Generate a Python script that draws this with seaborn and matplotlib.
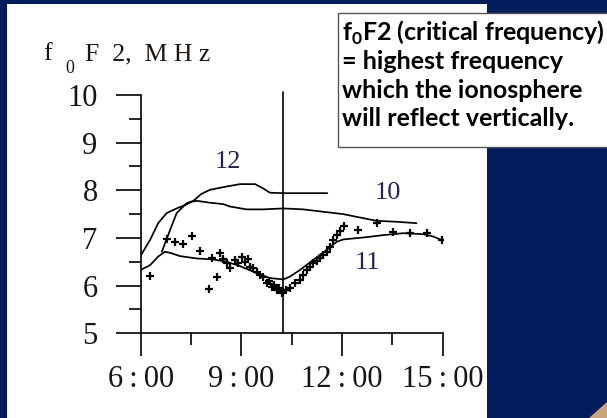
import matplotlib
matplotlib.use("Agg")
import matplotlib.pyplot as plt
import seaborn as sns
import pandas as pd
from matplotlib.patches import Rectangle, Polygon

# ---------------- data ----------------
hours_12 = [6.63, 6.85, 7.07, 7.37, 7.57, 7.80, 8.06, 8.56, 8.96, 9.41, 9.65, 9.85, 10.25, 11.56]
freq_12 = [6.71, 7.12, 7.52, 7.73, 7.78, 7.92, 8.01, 8.08, 8.13, 8.13, 8.04, 7.95, 7.94, 7.94]

hours_10 = [6.00, 6.28, 6.52, 6.77, 7.07, 7.32, 7.52, 7.67, 8.06, 8.46, 8.66, 9.16, 9.65, 10.25,
            10.85, 11.44, 12.04, 12.53, 13.03, 13.63, 14.22]
freq_10 = [6.63, 6.96, 7.31, 7.52, 7.62, 7.69, 7.76, 7.78, 7.74, 7.71, 7.66, 7.60, 7.60, 7.62,
           7.60, 7.55, 7.50, 7.43, 7.36, 7.34, 7.31]

hours_11 = [6.00, 6.28, 6.52, 6.72, 6.87, 7.17, 7.67, 8.16, 8.56, 8.96, 9.46, 9.85, 10.25, 10.45,
            10.75, 11.14, 11.54, 11.84, 12.04, 12.63, 13.23, 13.82, 14.42, 14.72, 15.02]
freq_11 = [6.33, 6.43, 6.61, 6.71, 6.69, 6.62, 6.57, 6.55, 6.50, 6.41, 6.26, 6.16, 6.13, 6.19,
           6.33, 6.54, 6.75, 6.92, 6.97, 7.01, 7.06, 7.10, 7.08, 7.03, 6.94]

obs_hours = [6.28, 6.77, 7.02, 7.27, 7.52, 7.77, 8.04, 8.12, 8.28, 8.36, 8.45, 8.56, 8.66, 8.81,
             8.90, 9.01, 9.10, 9.21, 9.26, 9.35, 9.46, 9.55, 9.65, 9.75, 9.82, 9.90, 9.98, 10.05,
             10.12, 10.20, 10.25, 10.32, 10.45, 10.60, 10.75, 10.85, 10.95, 11.05, 11.14, 11.24,
             11.34, 11.44, 11.54, 11.64, 11.74, 11.84, 11.94, 12.06, 12.48, 13.03, 13.53, 14.02,
             14.52, 14.97]
obs_freq = [6.21, 6.97, 6.91, 6.87, 7.04, 6.73, 5.93, 6.59, 6.18, 6.68, 6.55, 6.47, 6.36, 6.54,
            6.48, 6.61, 6.50, 6.55, 6.40, 6.36, 6.29, 6.22, 6.19, 6.05, 6.10, 5.98, 6.02, 5.91,
            5.95, 5.84, 5.86, 5.90, 5.94, 6.05, 6.12, 6.22, 6.33, 6.40, 6.47, 6.52,
            6.57, 6.65, 6.71, 6.82, 6.96, 7.06, 7.15, 7.25, 7.17, 7.32, 7.13, 7.10,
            7.10, 6.96]

marker_time = 10.25
marker_top = 10.06

y_ticks = [5, 6, 7, 8, 9, 10]
y_minor = [5.5, 6.5, 7.5, 8.5, 9.5]
x_ticks = [6, 9, 12, 15]
x_minor = [7.5, 10.5, 13.5]
x_labels = ["6\u2009:\u200900", "9\u2009:\u200900", "12\u2009:\u200900", "15\u2009:\u200900"]

curve_labels = ["12", "10", "11"]

# ---------------- style ----------------
sns.set_theme(style="ticks")
plt.rcParams["font.family"] = ["Liberation Serif", "DejaVu Serif"]
plt.rcParams["mathtext.fontset"] = "custom"
plt.rcParams["mathtext.sf"] = "Lato:bold"
plt.rcParams["mathtext.rm"] = "Liberation Serif"

W, H = 607, 418
NAVY = "#021d5c"
fig = plt.figure(figsize=(W / 100, H / 100), dpi=100, facecolor=NAVY)


def fx(x):
    return x / W


def fy(y):
    return 1 - y / H


# white slide panel
fig.patches.append(Rectangle((fx(7), 0), fx(487) - fx(7), fy(4), transform=fig.transFigure,
                             facecolor="white", edgecolor="none", zorder=-5))
# decorative corner swoosh
fig.patches.append(Polygon([(fx(589), fy(418)), (fx(607), fy(402)), (fx(607), fy(418))],
                           closed=True, transform=fig.transFigure, facecolor="#c9a27e",
                           edgecolor="none", zorder=-5))

# axes: 6h -> x=140.7, 15h -> x=442.7 ; 5 -> y=333.3, 10 -> y=95
ax = fig.add_axes([fx(140.7), fy(333.3), fx(442.7) - fx(140.7), fy(95) - fy(333.3)])
ax.set_facecolor("none")
ax.set_zorder(1)

line_kw = dict(color="black", linewidth=1.25, sort=False, estimator=None, legend=False, ax=ax)
sns.lineplot(data=pd.DataFrame({"h": hours_12, "f": freq_12}), x="h", y="f", **line_kw)
sns.lineplot(data=pd.DataFrame({"h": hours_10, "f": freq_10}), x="h", y="f", **line_kw)
sns.lineplot(data=pd.DataFrame({"h": hours_11, "f": freq_11}), x="h", y="f", **line_kw)
sns.scatterplot(data=pd.DataFrame({"h": obs_hours, "f": obs_freq}), x="h", y="f", marker="+",
                s=30, linewidth=1.6, color="black", legend=False, ax=ax, zorder=3)

ax.plot([marker_time, marker_time], [y_ticks[0], marker_top], color="black", linewidth=1.2,
        clip_on=False)

ax.set_xlim(6, 15)
ax.set_ylim(5, 10)
ax.set_xlabel("")
ax.set_ylabel("")
for s in ["top", "right"]:
    ax.spines[s].set_visible(False)
for s in ["left", "bottom"]:
    ax.spines[s].set_linewidth(1.2)
    ax.spines[s].set_color("black")

ax.set_yticks(y_ticks)
ax.set_yticks(y_minor, minor=True)
ax.set_yticklabels([str(v) for v in y_ticks])
ax.set_xticks(x_ticks)
ax.set_xticks(x_minor, minor=True)
ax.set_xticklabels(x_labels)

ax.tick_params(axis="y", which="major", direction="out", length=18, width=1.2, pad=13,
               labelsize=22, colors="black", labelcolor="#161616")
ax.tick_params(axis="y", which="minor", direction="out", length=8.6, width=1.2, colors="black")
ax.tick_params(axis="x", which="major", direction="out", length=16.5, width=1.2, pad=6,
               labelsize=22, colors="black", labelcolor="#161616")
ax.tick_params(axis="x", which="minor", direction="out", length=8.6, width=1.2, colors="black")

# curve labels
label_col = "#22224f"
for txt, (px, py) in zip(curve_labels, [(228, 162), (388, 193), (367, 263)]):
    fig.text(fx(px), fy(py), txt, ha="center", va="center", fontsize=19, color=label_col)

# y-axis title: f0F2, MHz
fig.text(fx(43), fy(60), "f", ha="left", va="baseline", fontsize=18.5, color="#1e1410")
fig.text(fx(65), fy(73), "0", ha="left", va="baseline", fontsize=13, color="#1e1410")
fig.text(fx(85), fy(60), "F  2,  M H z", ha="left", va="baseline", fontsize=18.5,
         color="#1e1410")

# definition box
fig.patches.append(Rectangle((fx(338.3), fy(146.7)), fx(640) - fx(338.3), fy(13.3) - fy(146.7),
                             transform=fig.transFigure, facecolor="white", edgecolor="#555555",
                             linewidth=1.0, zorder=2))
box_lines = [r"f$_\mathsf{0}$F2 (critical frequency)", "= highest frequency",
             "which the ionosphere", "will reflect vertically."]
for i, t in enumerate(box_lines):
    fig.text(fx(342), fy(40.5 + 28.6 * i), t, ha="left", va="baseline", fontsize=18,
             family=["Lato", "DejaVu Sans"], weight="bold", color="black", zorder=3)

fig.savefig("out.png", dpi=100, facecolor=NAVY)
